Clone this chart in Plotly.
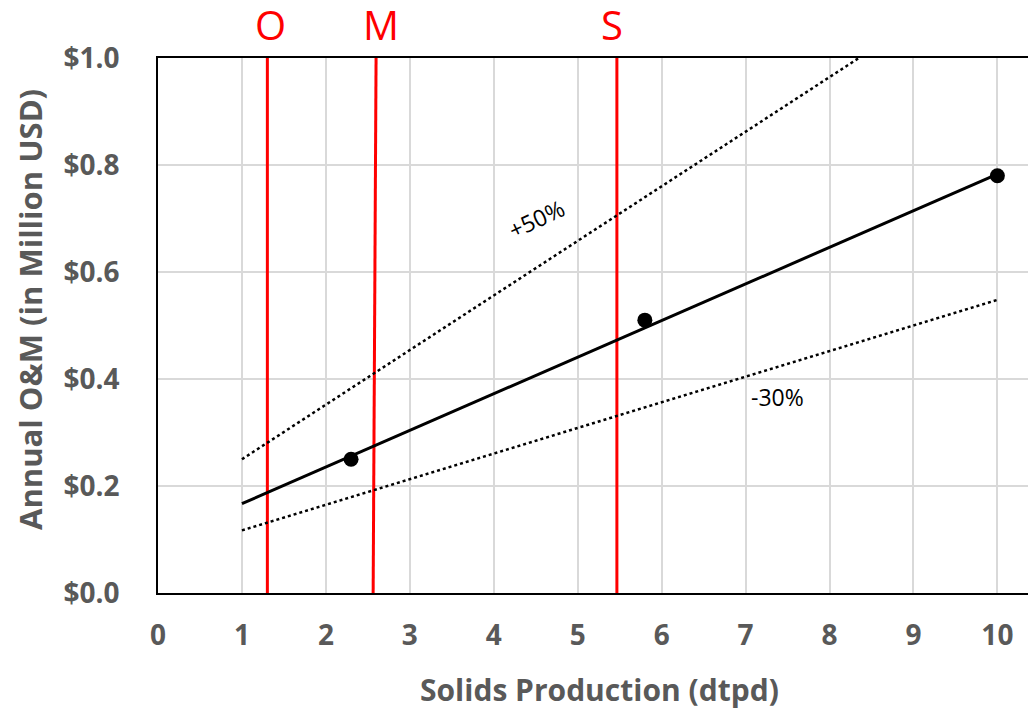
import plotly.graph_objects as go

# Data
pts_x = [2.3, 5.8, 10.0]
pts_y = [0.25, 0.51, 0.78]

trend_x = [1.0, 10.0]
trend_y = [0.167, 0.783]

plus50_x = [1.0, 8.35]
plus50_y = [0.25, 1.0]

minus30_x = [1.0, 10.0]
minus30_y = [0.117, 0.548]

markers_label = ["O", "M", "S"]
markers_x_top = [1.303, 2.598, 5.467]
markers_x_bot = [1.303, 2.563, 5.467]
markers_label_x = [1.341, 2.652, 5.405]

x_ticks = list(range(0, 11))
y_ticks = [0.0, 0.2, 0.4, 0.6, 0.8, 1.0]
y_ticktext = ["$0.0", "$0.2", "$0.4", "$0.6", "$0.8", "$1.0"]

FONT = "Open Sans"
GRAY = "#595959"

fig = go.Figure()

# red vertical lines
for lab, xt, xb in zip(markers_label, markers_x_top, markers_x_bot):
    fig.add_trace(go.Scatter(x=[xb, xt], y=[0, 1.0], mode="lines",
                             line=dict(color="#ff0000", width=3),
                             showlegend=False, hoverinfo="skip"))

fig.add_trace(go.Scatter(x=plus50_x, y=plus50_y, mode="lines",
                         line=dict(color="black", width=2.5, dash="dot"),
                         showlegend=False))
fig.add_trace(go.Scatter(x=minus30_x, y=minus30_y, mode="lines",
                         line=dict(color="black", width=2.5, dash="dot"),
                         showlegend=False))
fig.add_trace(go.Scatter(x=trend_x, y=trend_y, mode="lines",
                         line=dict(color="black", width=3),
                         showlegend=False))
fig.add_trace(go.Scatter(x=pts_x, y=pts_y, mode="markers",
                         marker=dict(color="black", size=15),
                         showlegend=False))

for lab, lx in zip(markers_label, markers_label_x):
    fig.add_annotation(x=lx, y=1.0, yref="paper", xref="x", text=lab,
                       showarrow=False, yanchor="bottom", yshift=4,
                       font=dict(family=FONT, size=40, color="#ff0000"))

fig.add_annotation(x=4.5, y=0.70, text="+50%", showarrow=False,
                   textangle=-25, font=dict(family=FONT, size=23, color="black"))
fig.add_annotation(x=7.38, y=0.367, text="-30%", showarrow=False,
                   font=dict(family=FONT, size=23, color="black"))

# axis titles
fig.add_annotation(x=-0.1458, y=0.531, xref="paper", yref="paper",
                   text="<b>Annual O&M (in Million USD)</b>", textangle=-90,
                   showarrow=False, xanchor="center", yanchor="middle",
                   font=dict(family=FONT, size=31, color=GRAY))
fig.add_annotation(x=0.503, y=-0.1813, xref="paper", yref="paper",
                   text="<b>Solids Production (dtpd)</b>",
                   showarrow=False, xanchor="center", yanchor="middle",
                   font=dict(family=FONT, size=30, color=GRAY))

fig.update_layout(
    width=1028, height=701,
    margin=dict(l=150, r=0, t=50, b=116),
    paper_bgcolor="white", plot_bgcolor="white",
    xaxis=dict(range=[0, 10.46], tickvals=x_ticks,
               ticktext=["<b>%d</b>" % t for t in x_ticks],
               showgrid=True, gridcolor="#d9d9d9", gridwidth=2,
               showline=True, linecolor="black", linewidth=2, mirror=True,
               zeroline=False, ticks="", ticklabelstandoff=16, automargin=False,
               tickfont=dict(family=FONT, size=28, color=GRAY)),
    yaxis=dict(range=[0, 1.0], tickvals=y_ticks,
               ticktext=["<b>%s</b>" % t for t in y_ticktext],
               showgrid=True, gridcolor="#d9d9d9", gridwidth=2,
               showline=True, linecolor="black", linewidth=2, mirror=False,
               zeroline=False, ticks="", ticklabelstandoff=31, automargin=False,
               tickfont=dict(family=FONT, size=28, color=GRAY)),
)

fig.write_html("out.html")
